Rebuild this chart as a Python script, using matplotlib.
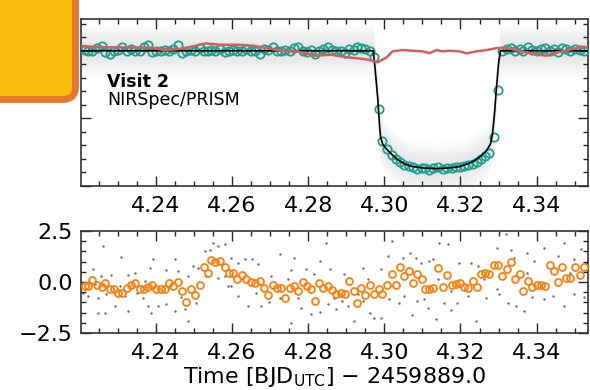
import numpy as np
import matplotlib.pyplot as plt
from matplotlib.patches import FancyBboxPatch
from matplotlib.ticker import MultipleLocator

# binned times (BJD_UTC - 2459889.0), shared by flux and residual bins
t_bin = [
    4.2213, 4.2222, 4.2232, 4.2246, 4.2257, 4.2267, 4.2279, 4.2289, 4.2300, 4.2311,
    4.2324, 4.2335, 4.2346, 4.2357, 4.2368, 4.2379, 4.2390, 4.2401, 4.2412, 4.2423,
    4.2434, 4.2446, 4.2458, 4.2469, 4.2479, 4.2493, 4.2503, 4.2515, 4.2526, 4.2536,
    4.2545, 4.2556, 4.2567, 4.2580, 4.2593, 4.2602, 4.2613, 4.2626, 4.2637, 4.2650,
    4.2659, 4.2672, 4.2683, 4.2694, 4.2707, 4.2718, 4.2729, 4.2739, 4.2751, 4.2762,
    4.2773, 4.2786, 4.2797, 4.2806, 4.2819, 4.2828, 4.2840, 4.2851, 4.2863, 4.2873,
    4.2885, 4.2897, 4.2906, 4.2919, 4.2928, 4.2939, 4.2950, 4.2962, 4.2974, 4.2985,
    4.2995, 4.3007, 4.3019, 4.3030, 4.3042, 4.3052, 4.3064, 4.3076, 4.3087, 4.3098,
    4.3106, 4.3118, 4.3129, 4.3142, 4.3153, 4.3164, 4.3177, 4.3188, 4.3199, 4.3210,
    4.3220, 4.3232, 4.3243, 4.3253, 4.3265, 4.3275, 4.3289, 4.3299, 4.3310, 4.3322,
    4.3334, 4.3344, 4.3356, 4.3365, 4.3378, 4.3389, 4.3400, 4.3411, 4.3422, 4.3434,
    4.3446, 4.3456, 4.3468, 4.3478, 4.3489, 4.3501, 4.3513, 4.3525,
]

flux_bin = [
    1.0001, 0.9999, 1.0000, 1.0004, 1.0007, 0.9998, 0.9995, 1.0000, 1.0001, 1.0005,
    0.9999, 1.0003, 1.0000, 0.9999, 1.0006, 1.0008, 0.9998, 1.0000, 0.9999, 1.0001,
    1.0000, 1.0003, 1.0008, 0.9996, 1.0000, 1.0001, 0.9999, 1.0004, 1.0000, 0.9999,
    1.0001, 1.0000, 1.0002, 0.9998, 1.0000, 1.0001, 1.0000, 0.9999, 1.0003, 1.0000,
    1.0000, 0.9995, 1.0002, 1.0001, 1.0006, 1.0000, 0.9999, 1.0001, 1.0000, 1.0004,
    1.0006, 1.0000, 0.9998, 1.0001, 0.9995, 1.0000, 1.0002, 1.0006, 1.0001, 0.9999,
    1.0000, 0.9996, 1.0002, 1.0001, 1.0006, 1.0004, 1.0002, 1.0000,
    0.99907, 0.99139, 0.98666, 0.98548, 0.98461, 0.98400, 0.98356, 0.98304, 0.98290, 0.98275,
    0.98253, 0.98260, 0.98267, 0.98230, 0.98267, 0.98275, 0.98253, 0.98267, 0.98267, 0.98275,
    0.98282, 0.98290, 0.98304, 0.98326, 0.98356, 0.98400, 0.98445, 0.98489, 0.98725, 0.99420,
    1.0000, 1.0002, 1.0004, 0.9999, 1.0003, 1.0000, 1.0005, 1.0001, 0.9999, 1.0002,
    1.0004, 1.0000, 1.0002, 0.9998, 1.0004, 1.0003, 0.9999, 1.0002, 1.0001, 1.0000,
]

resid_bin = [
    -0.20, -0.20, 0.10, -0.16, -0.23, -0.03, -0.33, -0.36, -0.52, -0.52,
    -0.28, -0.16, -0.03, -0.33, -0.33, -0.23, -0.16, -0.33, -0.36, -0.36,
    -0.03, -0.20, 0.00, -0.44, -0.98, -0.33, -0.64, -0.16, 0.72, 0.42,
    1.06, 0.98, 1.03, 0.75, 0.46, 0.46, 0.16, 0.33, 0.13, 0.00,
    -0.03, 0.05, -0.28, -0.65, -0.16, -0.28, -0.28, -0.77, -0.28, -0.20,
    -0.44, 0.00, -0.20, -0.36, -0.93, -0.03, -0.28, -0.20, -0.39, -0.60,
    -0.52, -0.60, 0.05, -0.44, -1.05, -0.28, -0.65, -0.16, -0.60, -0.33,
    -0.60, -0.16, 0.38, -0.16, 0.75, 0.29, 0.54, -0.07, 0.38, 0.13,
    -0.33, -0.33, -0.28, 0.70, -0.23, 0.33, -0.16, -0.11, -0.07, -0.23,
    -0.30, 0.05, -0.23, 0.38, 0.42, 0.38, 0.82, 0.82, 0.29, 0.65,
    0.98, 0.13, 0.38, -0.44, 0.05, -0.23, -0.13, -0.16, -0.20, 0.82,
    0.54, 0.00, 0.75, 0.21, 0.21, 0.75, 0.33, 0.75,
]

# unbinned residuals (subset)
t_raw = [
    4.2261, 4.2309, 4.2392, 4.2449, 4.2235, 4.2256, 4.2283, 4.2327, 4.2344, 4.2383,
    4.2425, 4.2458, 4.2497, 4.2510, 4.2528, 4.2541, 4.2550, 4.2562, 4.2580, 4.2598,
    4.2615, 4.2633, 4.2532, 4.2562, 4.2209, 4.2222, 4.2247, 4.2269, 4.2292, 4.2318,
    4.2349, 4.2366, 4.2379, 4.2405, 4.2427, 4.2449, 4.2476, 4.2485, 4.2506, 4.2247,
    4.2265, 4.2327, 4.2388, 4.2467, 4.2598, 4.2615, 4.2642, 4.2589, 4.2213, 4.2305,
    4.2419, 4.2580, 4.2240, 4.2370, 4.2485,
    4.2847, 4.2725, 4.2763, 4.2830, 4.2651, 4.2667, 4.2754, 4.2794, 4.2856, 4.2895,
    4.2943, 4.2991, 4.3019, 4.3009, 4.3048, 4.3068, 4.3083, 4.3096, 4.2702, 4.2816,
    4.2676, 4.2698, 4.2725, 4.2756, 4.2781, 4.2808, 4.2830, 4.2852, 4.2873, 4.2890,
    4.2904, 4.2921, 4.2943, 4.2961, 4.2973, 4.2991, 4.3013, 4.3039, 4.3073, 4.3087,
    4.2663, 4.2772, 4.2868, 4.2930, 4.3052, 4.2747, 4.2957,
    4.3144, 4.3166, 4.3127, 4.3118, 4.3196, 4.3227, 4.3245, 4.3295, 4.3319, 4.3332,
    4.3341, 4.3375, 4.3393, 4.3420, 4.3455, 4.3472, 4.3498, 4.3516, 4.3529, 4.3105,
    4.3114, 4.3136, 4.3158, 4.3175, 4.3192, 4.3219, 4.3241, 4.3267, 4.3301, 4.3324,
    4.3346, 4.3368, 4.3389, 4.3420, 4.3442, 4.3472, 4.3498, 4.3525, 4.3140, 4.3262,
    4.3375, 4.3489, 4.3175, 4.3297,
]

resid_raw = [
    1.76, 1.24, 1.11, 1.11, 0.62, 0.29, 0.33, 0.33, 0.46, 0.70,
    0.59, 0.54, 0.78, 0.70, 1.52, 1.57, 1.93, 1.76, 1.85, 1.19,
    0.95, 1.11, 0.29, 0.21, -0.52, -0.69, -0.77, -0.60, -1.18, -0.69,
    -0.52, -0.77, -1.18, -1.18, -1.09, -1.42, -1.34, -1.91, -1.01, -1.54,
    -1.54, -1.42, -1.50, -0.72, -0.20, -0.69, -1.18, -0.20, -0.36, -0.20,
    -0.44, 0.29, -0.11, 0.05, 0.29,
    1.93, 1.36, 1.19, 1.03, 1.11, 0.87, 0.59, 0.62, 0.65, 0.38,
    0.70, 0.62, 2.01, 1.27, 1.19, 1.44, 1.19, 0.95, 0.29, 0.38,
    -1.18, -0.98, -0.77, -1.99, -1.26, -1.58, -1.47, -1.09, -1.34, -0.93,
    -1.18, -1.91, -0.93, -1.50, -1.75, -1.75, -0.82, -1.01, -1.63, -0.93,
    -0.52, -0.77, -0.77, -0.60, -0.69, 0.13, 0.13,
    1.90, 1.85, 1.11, 1.03, 0.95, 0.95, 0.78, 1.68, 2.34, 1.57,
    1.19, 1.44, 1.03, 1.68, 1.27, 1.93, 1.11, 1.60, 0.95, -0.85,
    -1.26, -1.83, -1.01, -1.37, -1.01, -0.69, -1.91, -0.77, -0.60, -1.01,
    -1.18, -1.42, -0.72, -0.85, -0.69, -1.18, -0.60, -0.72, 0.13, 0.13,
    0.46, 0.46, -0.44, -0.36,
]

# transit model (black)
t_model = [
    4.2200, 4.29706, 4.29745, 4.29824, 4.29876, 4.29902, 4.29955, 4.30052, 4.30183, 4.30348,
    4.30532, 4.30742, 4.31004, 4.31371, 4.31713, 4.31975, 4.32185, 4.32368, 4.32552, 4.32683,
    4.32788, 4.32841, 4.32893, 4.32946, 4.32998, 4.33050, 4.3550,
]
flux_model = [
    1.0, 1.0, 0.99804, 0.99312, 0.98869, 0.98721, 0.98622, 0.98548, 0.98474, 0.98390,
    0.98326, 0.98287, 0.98267, 0.98257, 0.98267, 0.98287, 0.98326, 0.98375, 0.98449, 0.98523,
    0.98622, 0.98770, 0.99065, 0.99459, 0.99804, 1.0, 1.0,
]

# red curve
t_red = [
    4.22033, 4.22400, 4.23056, 4.23843, 4.24236, 4.24577, 4.24892, 4.25154, 4.25312, 4.25679,
    4.26204, 4.26571, 4.27279, 4.27725, 4.28171, 4.28591, 4.29037, 4.29483, 4.29693, 4.29824,
    4.30060, 4.30217, 4.30480, 4.30742, 4.31004, 4.31188, 4.31371, 4.31529, 4.31713, 4.31975,
    4.32159, 4.32421, 4.32683, 4.32946, 4.33208, 4.33470, 4.33733, 4.34073, 4.34257, 4.34414,
    4.34677, 4.34939, 4.35201, 4.35359,
]
flux_red = [
    1.00074, 1.00055, 1.00050, 1.00047, 1.00010, 1.00025, 1.00050, 1.00092, 1.00109, 1.00089,
    1.00089, 1.00074, 1.00000, 0.99991, 0.99926, 0.99941, 0.99903, 0.99877, 0.99852, 0.99829,
    0.99903, 0.99991, 1.00010, 1.00000, 0.99991, 0.99966, 1.00010, 0.99991, 1.00000, 0.99991,
    0.99962, 0.99991, 1.00010, 1.00040, 1.00040, 1.00010, 0.99976, 0.99941, 0.99926, 0.99962,
    0.99991, 1.00025, 1.00059, 1.00050,
]

# spread of the unbinned light curve around the model
scatter_levels = [0.0038, 0.0032, 0.0026, 0.0020, 0.0014, 0.0008]

fig = plt.figure(figsize=(5.9, 3.9), dpi=100)
ax1 = fig.add_axes([0.1373, 0.5231, 0.8593, 0.4282])
ax2 = fig.add_axes([0.1373, 0.1462, 0.8593, 0.2615])

tm = np.array(t_model)
fm = np.array(flux_model)
for w in scatter_levels:
    ax1.fill_between(tm, fm - w, fm + w, color="0.6", alpha=0.045, lw=0, zorder=1)
ax1.plot(t_bin, flux_bin, "o", mfc="none", mec="#1f9f90", ms=6, mew=1.3, zorder=3)
ax1.plot(t_model, flux_model, color="k", lw=1.2, zorder=4)
ax1.plot(t_red, flux_red, color="#d45f5f", lw=1.8, zorder=5)

ax1.text(0.051, 0.593, "Visit 2", transform=ax1.transAxes, fontsize=12.5,
         fontweight="bold", va="baseline", ha="left")
ax1.text(0.051, 0.485, "NIRSpec/PRISM", transform=ax1.transAxes, fontsize=12.5,
         va="baseline", ha="left")

ax2.plot(t_raw, resid_raw, "o", color="#555b66", ms=1.8, mew=0, alpha=0.85, zorder=1)
ax2.plot(t_bin, resid_bin, "o", mfc="none", mec="#ff7f0e", ms=5, mew=1.3, zorder=3)

for ax in (ax1, ax2):
    ax.set_xlim(4.2203, 4.3535)
    ax.xaxis.set_major_locator(MultipleLocator(0.02))
    ax.xaxis.set_minor_locator(MultipleLocator(0.005))
    ax.tick_params(which="both", direction="in", top=True, right=True,
                   width=1.0, labelsize=16, colors="0.15", labelcolor="k")
    ax.tick_params(which="major", length=7)
    ax.tick_params(which="minor", length=3.5)
    ax.tick_params(axis="x", pad=7)
    ax.tick_params(axis="y", pad=6)
    for sp in ax.spines.values():
        sp.set_linewidth(1.2)
        sp.set_color("0.2")

ax1.set_ylim(0.9800, 1.0047)
ax1.yaxis.set_major_locator(MultipleLocator(0.01))
ax1.yaxis.set_minor_locator(MultipleLocator(0.002))
ax1.tick_params(labelleft=False)

ax2.set_ylim(-2.5, 2.5)
ax2.yaxis.set_major_locator(MultipleLocator(2.5))
ax2.yaxis.set_minor_locator(MultipleLocator(0.5))
ax2.set_xlabel(r"Time [BJD$_{\mathrm{UTC}}$] $-$ 2459889.0", fontsize=16, labelpad=2)

badge = FancyBboxPatch((-0.5, 2.905), 1.255, 1.6,
                       boxstyle="round,pad=0,rounding_size=0.13",
                       transform=fig.dpi_scale_trans, facecolor="#fdbf0f",
                       edgecolor="#e8772e", linewidth=5.0, zorder=10)
fig.add_artist(badge)

fig.savefig("out.png", dpi=100)
